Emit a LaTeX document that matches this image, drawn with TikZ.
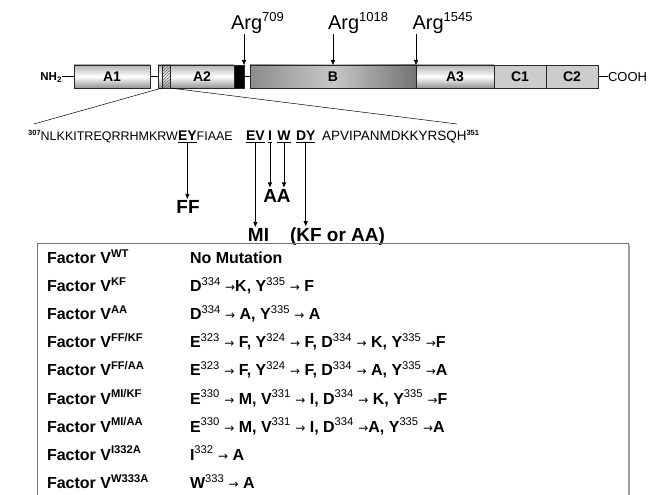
\documentclass[tikz,border=0pt]{standalone}
\usepackage{fontspec}
\setmainfont{Liberation Sans}
\newfontfamily\dvfont{DejaVu Sans}
\usetikzlibrary{arrows.meta,patterns}
\newcommand{\fsz}[1]{\fontsize{#1}{#1}\selectfont}
\newcommand{\mto}{{\dvfont\mdseries\fsz{12}→}}
\newcommand{\rsup}[1]{\textsuperscript{\mdseries #1}}
\newcommand{\ssup}[1]{\raisebox{0.75ex}{\fsz{7.5}\bfseries #1}}
\begin{document}
\begin{tikzpicture}[x=1pt,y=-1pt,
  every node/.style={inner sep=0pt, outer sep=0pt},
  dom/.style={draw=black!85, line width=0.7pt, minimum height=23pt, font=\fsz{14}\bfseries},
  abox/.style={dom, top color=black!30, bottom color=black!42, middle color=white},
  bbox/.style={dom, left color=black!45, right color=black!55, middle color=black!22},
  cbox/.style={dom, fill=black!20},
  plain/.style={font=\fsz{13}},
  arg/.style={font=\fsz{20}, anchor=base west},
  seq/.style={font=\fsz{12.5}, anchor=base west},
  site/.style={font=\fsz{14}\bfseries, anchor=base west},
  mut/.style={font=\fsz{19}\bfseries, inner sep=1.5pt},
  arr/.style={-{Triangle[length=5pt,width=4pt]}, line width=0.8pt},
  row/.style={font=\fsz{16}\bfseries, anchor=base west},
  frame/.style={draw=black!55, line width=0.8pt}
]
\useasboundingbox (0,0) rectangle (651,495);
\fill[white] (0,0) rectangle (651,495);

% domain bar
\node[abox, minimum width=76pt] (a1) at (112,76.5) {A1};
\node[abox, minimum width=12pt] (pre) at (164,76.5) {};
\node[dom, minimum width=8pt, pattern=north east lines, pattern color=black!60] (hatch) at (166,76.5) {};
\node[abox, minimum width=64pt] (a2) at (202,76.5) {A2};
\node[dom, fill=black, minimum width=10pt] (blk) at (239,76.5) {};
\node[bbox, minimum width=166pt] (b) at (333,76.5) {B};
\node[abox, minimum width=78pt] (a3) at (455,76.5) {A3};
\node[cbox, minimum width=52pt] (c1) at (520,76.5) {C1};
\node[cbox, minimum width=52pt] (c2) at (572,76.5) {C2};
\node[font=\fsz{11.5}\bfseries, anchor=base east] (nh2) at (62,81) {NH\textsubscript{2}};
\node[plain, anchor=base west] (cooh) at (608,81.5) {COOH};
\draw (nh2.east |- a1.west) -- (a1.west);
\draw (a1.east) -- (pre.west);
\draw (blk.east) -- (b.west);
\draw (c2.east) -- (cooh.west |- c2.east);

% cleavage sites
\node[arg] (r709) at (231,29.5) {Arg\textsuperscript{\fsz{13}709}};
\node[arg] (r1018) at (328,29.5) {Arg\textsuperscript{\fsz{13}1018}};
\node[arg] (r1545) at (412.5,29.5) {Arg\textsuperscript{\fsz{13}1545}};
\draw[arr] (blk.north east |- r709.south) -- (blk.north east);
\draw[arr] (b.north |- r1018.south) -- (b.north);
\draw[arr] (b.north east |- r1545.south) -- (b.north east);

% expansion
\coordinate (L) at (34,124);
\coordinate (R) at (457,124);
\draw[line width=0.5pt] (hatch.south west) -- (L);
\draw[line width=0.5pt] (hatch.south east) -- (R);

% sequence
\node[site] (ey) at (178,140.5) {\underline{EY}};
\node[seq, anchor=base east] (s1) at (ey.base west) {\ssup{307}NLKKITREQRRHMKRW};
\node[seq] (s2) at (ey.base east) {FIAAE};
\node[site] (ev) at (246,140.5) {\underline{EV}};
\node[site] (ii) at (268,140.5) {\underline{I}};
\node[site] (ww) at (277.4,140.5) {\underline{W}};
\node[site] (dy) at (296,140.5) {\underline{DY}};
\node[seq, font=\fsz{13.5}] (s3) at (322,140.5) {APVIPANMDKKYRSQH\ssup{351}};

% mutations
\node[mut, anchor=base] (ff) at (188,213.5) {FF};
\node[mut, anchor=base] (aa) at (277,202) {AA};
\node[mut, anchor=base] (mi) at (258.5,241.5) {MI};
\node[mut, anchor=base west] (kf) at (288.5,241.5) {(KF or AA)};
\draw[arr] (ey.south) -- (ey.south |- ff.north);
\draw[arr] (ii.south) -- (ii.south |- aa.north);
\draw[arr] (ww.south) -- (ww.south |- aa.north);
\draw[arr] (ev.south) -- (ev.south |- mi.north);
\draw[arr] (dy.south) -- (dy.south |- kf.north);

% table
\node[frame, anchor=north west, minimum width=591pt, minimum height=300pt] (tbl) at (37,243.5) {};
\draw[black!38, line width=1.6pt] ([xshift=0.8pt,yshift=-1pt]tbl.north east) -- ([xshift=0.8pt]tbl.south east);

\node[row] (f1) at (47,263.5) {Factor V\textsuperscript{WT}};
\node[row] (f2) at (47,291.6) {Factor V\textsuperscript{KF}};
\node[row] (f3) at (47,319.7) {Factor V\textsuperscript{AA}};
\node[row] (f4) at (47,347.8) {Factor V\textsuperscript{FF/KF}};
\node[row] (f5) at (47,375.9) {Factor V\textsuperscript{FF/AA}};
\node[row] (f6) at (47,404.0) {Factor V\textsuperscript{MI/KF}};
\node[row] (f7) at (47,432.1) {Factor V\textsuperscript{MI/AA}};
\node[row] (f8) at (47,460.2) {Factor V\textsuperscript{I332A}};
\node[row] (f9) at (47,488.3) {Factor V\textsuperscript{W333A}};

\node[row] (m1) at (190,263.5) {No Mutation};
\node[row] (m2) at (190,291.6) {D\rsup{334} \mto K, Y\rsup{335} \mto{} F};
\node[row] (m3) at (190,319.7) {D\rsup{334} \mto{} A, Y\rsup{335} \mto{} A};
\node[row] (m4) at (190,347.8) {E\rsup{323} \mto{} F, Y\rsup{324} \mto{} F, D\rsup{334} \mto{} K, Y\rsup{335} \mto F};
\node[row] (m5) at (190,375.9) {E\rsup{323} \mto{} F, Y\rsup{324} \mto{} F, D\rsup{334} \mto{} A, Y\rsup{335} \mto A};
\node[row] (m6) at (190,404.0) {E\rsup{330} \mto{} M, V\rsup{331} \mto{} I, D\rsup{334} \mto{} K, Y\rsup{335} \mto F};
\node[row] (m7) at (190,432.1) {E\rsup{330} \mto{} M, V\rsup{331} \mto{} I, D\rsup{334} \mto A, Y\rsup{335} \mto A};
\node[row] (m8) at (190,460.2) {I\rsup{332} \mto{} A};
\node[row] (m9) at (190,488.3) {W\rsup{333} \mto{} A};
\end{tikzpicture}
\end{document}
